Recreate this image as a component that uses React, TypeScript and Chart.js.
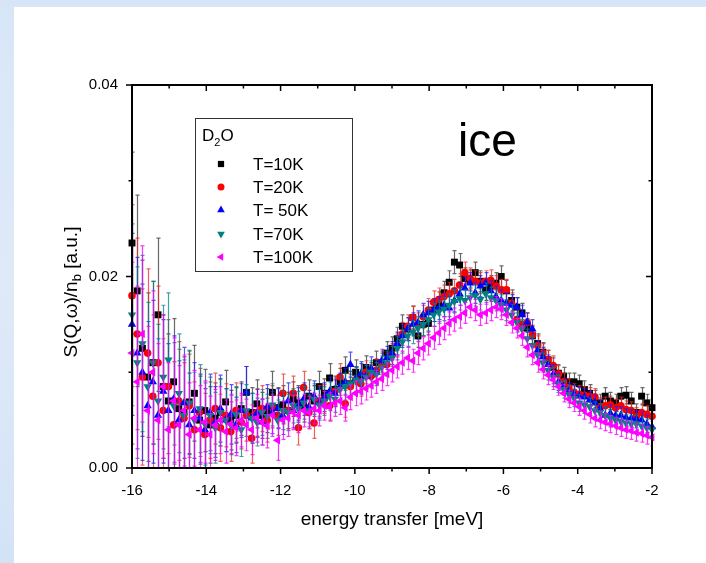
import React, { useEffect, useRef } from 'react';
import { Chart, registerables } from 'chart.js';

Chart.register(...registerables);

const FONT = '"Liberation Sans", Arial, Helvetica, sans-serif';

// energy transfer grid [meV]
const energy = [
  -16.00, -15.86, -15.72, -15.58, -15.44, -15.30, -15.16, -15.02, -14.88, -14.74,
  -14.60, -14.46, -14.32, -14.18, -14.04, -13.90, -13.76, -13.62, -13.48, -13.34,
  -13.20, -13.06, -12.92, -12.78, -12.64, -12.50, -12.36, -12.22, -12.08, -11.94,
  -11.80, -11.66, -11.52, -11.38, -11.24, -11.10, -10.96, -10.82, -10.68, -10.54,
  -10.40, -10.26, -10.12, -9.98, -9.84, -9.70, -9.56, -9.42, -9.28, -9.14,
  -9.00, -8.86, -8.72, -8.58, -8.44, -8.30, -8.16, -8.02, -7.88, -7.74,
  -7.60, -7.46, -7.32, -7.18, -7.04, -6.90, -6.76, -6.62, -6.48, -6.34,
  -6.20, -6.06, -5.92, -5.78, -5.64, -5.50, -5.36, -5.22, -5.08, -4.94,
  -4.80, -4.66, -4.52, -4.38, -4.24, -4.10, -3.96, -3.82, -3.68, -3.54,
  -3.40, -3.26, -3.12, -2.98, -2.84, -2.70, -2.56, -2.42, -2.28, -2.14,
  -2.00,
];

const sT10K = [
  0.0235, 0.0185, 0.0125, 0.0095, 0.0110, 0.0160, 0.0085, 0.0070, 0.0090, 0.0062,
  0.0058, 0.0069, 0.0078, 0.0050, 0.0060, 0.0045, 0.0052, 0.0058, 0.0069, 0.0050,
  0.0055, 0.0062, 0.0079, 0.0058, 0.0067, 0.0055, 0.0060, 0.0079, 0.0063, 0.0066,
  0.0060, 0.0072, 0.0068, 0.0065, 0.0075, 0.0070, 0.0085, 0.0078, 0.0094, 0.0082,
  0.0090, 0.0102, 0.0088, 0.0100, 0.0096, 0.0105, 0.0098, 0.0110, 0.0108, 0.0120,
  0.0125, 0.0135, 0.0148, 0.0145, 0.0157, 0.0138, 0.0150, 0.0151, 0.0165, 0.0172,
  0.0183, 0.0194, 0.0215, 0.0212, 0.0198, 0.0196, 0.0204, 0.0195, 0.0186, 0.0190,
  0.0193, 0.0200, 0.0185, 0.0175, 0.0168, 0.0162, 0.0146, 0.0138, 0.0130, 0.0121,
  0.0113, 0.0105, 0.0099, 0.0096, 0.0090, 0.0090, 0.0088, 0.0082, 0.0078, 0.0072,
  0.0068, 0.0075, 0.0070, 0.0068, 0.0075, 0.0076, 0.0070, 0.0058, 0.0075, 0.0068,
  0.0063,
];

const sT20K = [
  0.0180, 0.0140, 0.0095, 0.0120, 0.0075, 0.0110, 0.0060, 0.0085, 0.0045, 0.0070,
  0.0052, 0.0065, 0.0040, 0.0058, 0.0035, 0.0050, 0.0062, 0.0042, 0.0055, 0.0038,
  0.0060, 0.0048, 0.0055, 0.0031, 0.0058, 0.0062, 0.0050, 0.0064, 0.0055, 0.0078,
  0.0060, 0.0078, 0.0042, 0.0084, 0.0058, 0.0047, 0.0070, 0.0072, 0.0065, 0.0080,
  0.0095, 0.0067, 0.0085, 0.0092, 0.0088, 0.0100, 0.0096, 0.0102, 0.0110, 0.0108,
  0.0118, 0.0128, 0.0140, 0.0148, 0.0157, 0.0150, 0.0158, 0.0165, 0.0173, 0.0176,
  0.0179, 0.0182, 0.0185, 0.0191, 0.0204, 0.0198, 0.0195, 0.0193, 0.0195, 0.0196,
  0.0190, 0.0186, 0.0186, 0.0172, 0.0155, 0.0150, 0.0152, 0.0139, 0.0128, 0.0120,
  0.0113, 0.0107, 0.0098, 0.0090, 0.0084, 0.0079, 0.0077, 0.0076, 0.0075, 0.0074,
  0.0064, 0.0065, 0.0066, 0.0063, 0.0065, 0.0061, 0.0060, 0.0054, 0.0058, 0.0056,
  0.0054,
];

const sT50K = [
  0.0150, 0.0120, 0.0100, 0.0065, 0.0090, 0.0055, 0.0080, 0.0060, 0.0072, 0.0050,
  0.0068, 0.0045, 0.0060, 0.0052, 0.0040, 0.0058, 0.0048, 0.0062, 0.0050, 0.0056,
  0.0045, 0.0060, 0.0079, 0.0052, 0.0057, 0.0048, 0.0064, 0.0058, 0.0062, 0.0055,
  0.0070, 0.0060, 0.0066, 0.0072, 0.0064, 0.0075, 0.0068, 0.0074, 0.0080, 0.0078,
  0.0085, 0.0090, 0.0108, 0.0093, 0.0098, 0.0096, 0.0104, 0.0100, 0.0112, 0.0115,
  0.0120, 0.0130, 0.0138, 0.0145, 0.0150, 0.0152, 0.0160, 0.0162, 0.0165, 0.0167,
  0.0170, 0.0167, 0.0175, 0.0182, 0.0188, 0.0193, 0.0183, 0.0190, 0.0193, 0.0185,
  0.0179, 0.0175, 0.0172, 0.0170, 0.0168, 0.0160, 0.0152, 0.0145, 0.0123, 0.0116,
  0.0108, 0.0098, 0.0090, 0.0085, 0.0080, 0.0077, 0.0075, 0.0074, 0.0071, 0.0068,
  0.0062, 0.0055, 0.0057, 0.0055, 0.0055, 0.0053, 0.0052, 0.0051, 0.0050, 0.0046,
  0.0043,
];

const sT70K = [
  0.0160, 0.0110, 0.0130, 0.0085, 0.0110, 0.0070, 0.0095, 0.0113, 0.0065, 0.0078,
  0.0055, 0.0068, 0.0050, 0.0062, 0.0046, 0.0055, 0.0042, 0.0058, 0.0050, 0.0045,
  0.0056, 0.0040, 0.0060, 0.0052, 0.0048, 0.0058, 0.0054, 0.0066, 0.0050, 0.0060,
  0.0058, 0.0065, 0.0062, 0.0068, 0.0060, 0.0072, 0.0066, 0.0070, 0.0075, 0.0072,
  0.0082, 0.0085, 0.0088, 0.0092, 0.0090, 0.0095, 0.0100, 0.0098, 0.0105, 0.0110,
  0.0115, 0.0125, 0.0132, 0.0138, 0.0142, 0.0146, 0.0150, 0.0155, 0.0160, 0.0163,
  0.0166, 0.0170, 0.0174, 0.0177, 0.0175, 0.0178, 0.0180, 0.0176, 0.0182, 0.0178,
  0.0175, 0.0170, 0.0165, 0.0160, 0.0152, 0.0145, 0.0135, 0.0128, 0.0118, 0.0110,
  0.0102, 0.0095, 0.0088, 0.0082, 0.0077, 0.0073, 0.0068, 0.0066, 0.0064, 0.0060,
  0.0058, 0.0055, 0.0052, 0.0050, 0.0049, 0.0047, 0.0046, 0.0046, 0.0044, 0.0042,
  0.0040,
];

const sT100K = [
  0.0120, 0.0090, 0.0140, 0.0060, 0.0100, 0.0050, 0.0085, 0.0040, 0.0070, 0.0045,
  0.0060, 0.0035, 0.0052, 0.0040, 0.0048, 0.0035, 0.0045, 0.0050, 0.0038, 0.0046,
  0.0042, 0.0050, 0.0045, 0.0040, 0.0052, 0.0048, 0.0044, 0.0055, 0.0029, 0.0050,
  0.0052, 0.0058, 0.0055, 0.0060, 0.0058, 0.0062, 0.0060, 0.0065, 0.0064, 0.0068,
  0.0070, 0.0063, 0.0074, 0.0078, 0.0080, 0.0083, 0.0086, 0.0090, 0.0093, 0.0098,
  0.0102, 0.0106, 0.0110, 0.0115, 0.0112, 0.0120, 0.0125, 0.0130, 0.0136, 0.0141,
  0.0146, 0.0151, 0.0155, 0.0158, 0.0162, 0.0168, 0.0165, 0.0160, 0.0162, 0.0165,
  0.0168, 0.0166, 0.0160, 0.0152, 0.0146, 0.0138, 0.0126, 0.0118, 0.0110, 0.0103,
  0.0097, 0.0092, 0.0085, 0.0078, 0.0072, 0.0068, 0.0064, 0.0060, 0.0056, 0.0052,
  0.0050, 0.0048, 0.0046, 0.0044, 0.0042, 0.0040, 0.0039, 0.0037, 0.0036, 0.0034,
  0.0032,
];

// error bar half-heights (shared by all temperatures)
const errorBars = [
  0.0095, 0.0100, 0.0092, 0.0088, 0.0085, 0.0080, 0.0075, 0.0070, 0.0066, 0.0062,
  0.0058, 0.0054, 0.0050, 0.0046, 0.0043, 0.0040, 0.0037, 0.0035, 0.0033, 0.0031,
  0.0029, 0.0028, 0.0027, 0.0026, 0.0025, 0.0024, 0.0023, 0.0022, 0.0021, 0.0020,
  0.0019, 0.0018, 0.0018, 0.0017, 0.0017, 0.0016, 0.0016, 0.0015, 0.0015, 0.0014,
  0.0014, 0.0014, 0.0013, 0.0013, 0.0013, 0.0012, 0.0012, 0.0012, 0.0012, 0.0012,
  0.0012, 0.0012, 0.0012, 0.0012, 0.0012, 0.0012, 0.0012, 0.0012, 0.0012, 0.0012,
  0.0012, 0.0012, 0.0012, 0.0012, 0.0011, 0.0011, 0.0011, 0.0011, 0.0011, 0.0011,
  0.0011, 0.0011, 0.0011, 0.0011, 0.0010, 0.0010, 0.0010, 0.0010, 0.0010, 0.0010,
  0.0010, 0.0010, 0.0009, 0.0009, 0.0009, 0.0009, 0.0009, 0.0009, 0.0009, 0.0009,
  0.0009, 0.0009, 0.0009, 0.0009, 0.0009, 0.0009, 0.0009, 0.0009, 0.0009, 0.0009,
  0.0009,
];

const seriesValues = [sT10K, sT20K, sT50K, sT70K, sT100K];
const seriesLabels = ['T=10K', 'T=20K', 'T= 50K', 'T=70K', 'T=100K'];
const seriesColors = ['#000000', '#ff0000', '#0000ff', '#008080', '#ff00ff'];
const errorColors = [
  'rgba(40,40,40,0.7)', 'rgba(240,40,40,0.75)', 'rgba(30,30,255,0.75)',
  'rgba(0,128,128,0.75)', 'rgba(255,0,255,0.8)',
];
const seriesStyles = ['rect', 'circle', 'triangle', 'triangle', 'triangle'];
const seriesRotations = [0, 0, 0, 180, 270];
const seriesRadii = [4.9, 3.8, 4.8, 4.8, 4.8];

const xMin = -16;
const xMax = -2;
const yMin = 0;
const yMax = 0.04;

function drawMarker(ctx: CanvasRenderingContext2D, style: string, rot: number, x: number, y: number, r: number) {
  ctx.beginPath();
  if (style === 'rect') {
    const s = Math.SQRT1_2 * r;
    ctx.rect(x - s, y - s, 2 * s, 2 * s);
  } else if (style === 'circle') {
    ctx.arc(x, y, r, 0, Math.PI * 2);
  } else {
    let a = (rot * Math.PI) / 180;
    ctx.moveTo(x + Math.sin(a) * r, y - Math.cos(a) * r);
    a += (2 * Math.PI) / 3;
    ctx.lineTo(x + Math.sin(a) * r, y - Math.cos(a) * r);
    a += (2 * Math.PI) / 3;
    ctx.lineTo(x + Math.sin(a) * r, y - Math.cos(a) * r);
    ctx.closePath();
  }
  ctx.fill();
}

const decorPlugin = {
  id: 'decor',
  beforeDraw(chart: any) {
    const { ctx, width, height } = chart;
    ctx.save();
    const g = ctx.createLinearGradient(0, 0, 0, height);
    g.addColorStop(0, '#d7e6f7');
    g.addColorStop(0.5, '#dfeaf8');
    g.addColorStop(1, '#d3e3f6');
    ctx.fillStyle = g;
    ctx.fillRect(0, 0, width, height);
    ctx.fillStyle = '#ffffff';
    ctx.fillRect(14, 7, width - 14, height - 7);
    ctx.restore();
  },
  beforeDatasetDraw(chart: any, args: any) {
    const { ctx, chartArea } = chart;
    const idx = args.index;
    const meta = args.meta;
    const ys = chart.scales.y;
    const ds = chart.data.datasets[idx];
    ctx.save();
    ctx.beginPath();
    ctx.rect(chartArea.left, chartArea.top, chartArea.right - chartArea.left, chartArea.bottom - chartArea.top);
    ctx.clip();
    ctx.strokeStyle = errorColors[idx];
    ctx.lineWidth = 1.2;
    ctx.beginPath();
    meta.data.forEach((pt: any, i: number) => {
      const v = ds.data[i].y;
      const e = errorBars[i];
      const x = Math.round(pt.x) + 0.5;
      const y1 = ys.getPixelForValue(v + e);
      const y2 = ys.getPixelForValue(v - e);
      ctx.moveTo(x, y1);
      ctx.lineTo(x, y2);
      ctx.moveTo(x - 2, y1);
      ctx.lineTo(x + 2, y1);
      ctx.moveTo(x - 2, y2);
      ctx.lineTo(x + 2, y2);
    });
    ctx.stroke();
    ctx.restore();
  },
  afterDraw(chart: any) {
    const { ctx, chartArea: a } = chart;
    const xs = chart.scales.x;
    const ys = chart.scales.y;
    ctx.save();
    // ticks
    ctx.strokeStyle = '#000';
    ctx.lineWidth = 1.5;
    ctx.beginPath();
    for (let v = xMin; v <= xMax; v += 1) {
      const px = xs.getPixelForValue(v);
      const major = v % 2 === 0;
      const len = major ? 6 : 3.5;
      ctx.moveTo(px, a.bottom);
      ctx.lineTo(px, a.bottom + len);
      ctx.moveTo(px, a.top);
      ctx.lineTo(px, a.top + len);
    }
    for (let k = 0; k <= 4; k++) {
      const py = ys.getPixelForValue(k * 0.01);
      const major = k % 2 === 0;
      const len = major ? 6 : 3.5;
      ctx.moveTo(a.left - len, py);
      ctx.lineTo(a.left, py);
      ctx.moveTo(a.right - len, py);
      ctx.lineTo(a.right, py);
    }
    ctx.stroke();
    // frame
    ctx.lineWidth = 2;
    ctx.strokeRect(a.left, a.top, a.right - a.left, a.bottom - a.top);

    // x title
    ctx.fillStyle = '#000';
    ctx.font = `19px ${FONT}`;
    ctx.textAlign = 'center';
    ctx.textBaseline = 'alphabetic';
    ctx.fillText('energy transfer [meV]', (a.left + a.right) / 2, 525);

    // y title (rotated, with subscript)
    ctx.save();
    ctx.translate(77, 292);
    ctx.rotate(-Math.PI / 2);
    const p1 = 'S(Q,\u03c9)/n';
    const p2 = 'b';
    const p3 = ' [a.u.]';
    ctx.font = `19px ${FONT}`;
    const w1 = ctx.measureText(p1).width;
    const w3 = ctx.measureText(p3).width;
    ctx.font = `13px ${FONT}`;
    const w2 = ctx.measureText(p2).width;
    const total = w1 + w2 + w3;
    let cx = -total / 2;
    ctx.textAlign = 'left';
    ctx.font = `19px ${FONT}`;
    ctx.fillText(p1, cx, 0);
    cx += w1;
    ctx.font = `13px ${FONT}`;
    ctx.fillText(p2, cx, 4);
    cx += w2;
    ctx.font = `19px ${FONT}`;
    ctx.fillText(p3, cx, 0);
    ctx.restore();

    // "ice" annotation
    ctx.font = `46px ${FONT}`;
    ctx.textAlign = 'left';
    ctx.fillText('ice', 458, 156);

    // legend box
    ctx.lineWidth = 1;
    ctx.strokeStyle = '#333';
    ctx.strokeRect(195.5, 118.5, 157, 153);
    ctx.font = `17px ${FONT}`;
    ctx.textBaseline = 'alphabetic';
    ctx.fillText('D', 202, 141);
    const dW = ctx.measureText('D').width;
    ctx.font = `11px ${FONT}`;
    ctx.fillText('2', 202 + dW, 146);
    const tW = ctx.measureText('2').width;
    ctx.font = `17px ${FONT}`;
    ctx.fillText('O', 202 + dW + tW, 141);

    const rows = [164, 187, 210, 234, 257];
    ctx.textBaseline = 'middle';
    for (let i = 0; i < seriesLabels.length; i++) {
      ctx.fillStyle = seriesColors[i];
      drawMarker(ctx, seriesStyles[i], seriesRotations[i], 221, rows[i], i === 1 ? 3.5 : 4.4);
      ctx.fillStyle = '#000';
      ctx.font = `17px ${FONT}`;
      ctx.fillText(seriesLabels[i], 253, rows[i] + 1);
    }
    ctx.restore();
  },
};

export default function App() {
  const ref = useRef<HTMLCanvasElement>(null);
  useEffect(() => {
    if (!ref.current) return;
    const datasets = seriesValues.map((vals, i) => ({
      label: seriesLabels[i],
      data: energy.map((x, j) => ({ x, y: vals[j] })),
      pointStyle: seriesStyles[i],
      rotation: seriesRotations[i],
      pointRadius: seriesRadii[i],
      pointBackgroundColor: seriesColors[i],
      pointBorderColor: seriesColors[i],
      pointBorderWidth: 0,
      backgroundColor: seriesColors[i],
      borderColor: seriesColors[i],
      showLine: false,
      clip: false as any,
      order: seriesValues.length - 1 - i,
    }));
    const chart = new Chart(ref.current, {
      type: 'scatter',
      data: { datasets },
      options: {
        animation: false,
        responsive: false,
        events: [],
        layout: { padding: { left: 72, right: 54, top: 85, bottom: 0 } },
        plugins: { legend: { display: false }, tooltip: { enabled: false } },
        scales: {
          x: {
            type: 'linear',
            position: 'bottom',
            min: xMin,
            max: xMax,
            grid: { display: false, drawTicks: false },
            border: { display: false },
            ticks: {
              stepSize: 2,
              color: '#000',
              padding: 14,
              maxRotation: 0,
              autoSkip: false,
              font: { family: FONT, size: 15 },
            },
            afterFit: (s: any) => { s.height = 95; },
          },
          y: {
            type: 'linear',
            min: yMin,
            max: yMax,
            grid: { display: false, drawTicks: false },
            border: { display: false },
            ticks: {
              stepSize: 0.02,
              color: '#000',
              padding: 14,
              font: { family: FONT, size: 15 },
              callback: (v: any) => Number(v).toFixed(2),
            },
            afterFit: (s: any) => { s.width = 60; },
          },
        },
      },
      plugins: [decorPlugin],
    } as any);
    return () => chart.destroy();
  }, []);
  return (
    <div style={{ position: 'absolute', left: 0, top: 0, width: 706, height: 563 }}>
      <canvas ref={ref} width={706} height={563} style={{ display: 'block' }} />
    </div>
  );
}
